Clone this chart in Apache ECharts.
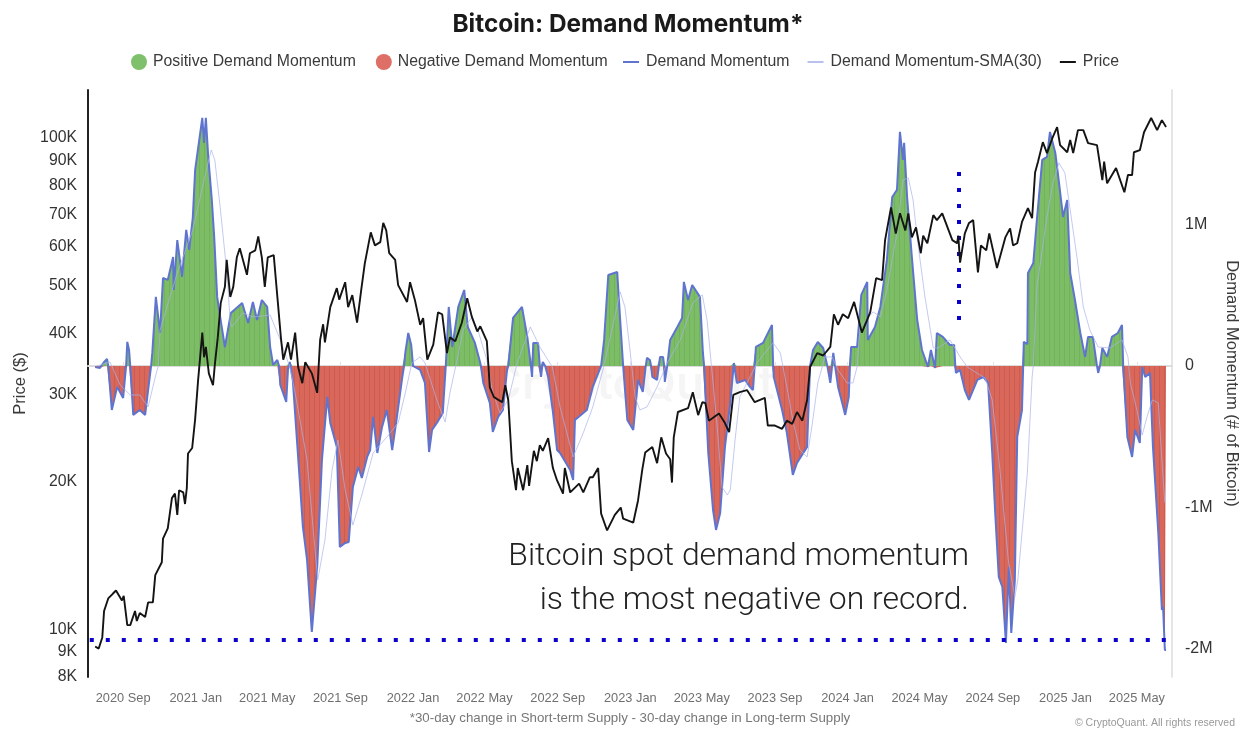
<!DOCTYPE html>
<html>
<head>
<meta charset="utf-8">
<style>html,body{margin:0;background:#fff}#chart{width:1256px;height:746px}</style>
<script src="https://cdn.jsdelivr.net/npm/echarts@6/dist/echarts.min.js"></script>
</head>
<body>
<div id="chart"></div>
<script>
// days are counted from the axis start, price in $K, momentum in thousand BTC
const axisStart = Date.UTC(2020, 6, 4)
const axisEnd = Date.UTC(2025, 5, 29)
const monthTicks = ['2020-09', '2021-01', '2021-05', '2021-09', '2022-01', '2022-05', '2022-09', '2023-01', '2023-05', '2023-09', '2024-01', '2024-05', '2024-09', '2025-01', '2025-05']
const priceTicks = [8, 9, 10, 20, 30, 40, 50, 60, 70, 80, 90, 100]
const momentumTicks = [-2000, -1000, 0, 1000]

const priceDays = [12,18,24,27,34,42,47,57,60,66,71,79,82,87,96,101,109,113,124,126,134,141,146,150,153,160,163,166,168,175,180,185,186,192,195,198,203,210,213,218,223,230,233,239,244,250,255,267,272,281,286,292,297,302,312,319,324,328,336,341,348,353,360,365,376,385,390,395,398,407,418,422,432,437,444,452,459,465,475,482,491,496,501,506,516,521,536,541,549,558,563,570,580,588,595,603,608,617,628,637,645,654,659,670,675,682,696,701,706,712,719,722,731,738,741,749,754,759,764,773,781,788,798,801,810,825,832,843,848,857,862,872,885,895,899,916,924,931,936,948,956,963,971,978,981,984,991,1008,1016,1025,1032,1037,1043,1060,1070,1077,1084,1095,1107,1120,1137,1142,1154,1166,1174,1183,1191,1200,1208,1213,1225,1235,1247,1253,1260,1268,1277,1287,1300,1314,1324,1334,1339,1349,1357,1364,1373,1378,1384,1391,1399,1403,1410,1420,1426,1435,1452,1460,1462,1465,1473,1480,1487,1495,1500,1509,1514,1527,1541,1549,1554,1561,1569,1579,1586,1591,1596,1604,1611,1620,1628,1633,1645,1650,1655,1663,1672,1680,1695,1704,1707,1712,1727,1741,1747,1754,1757,1767,1774,1786,1796,1804,1811]
const priceValues = [9.23,9.14,9.63,10.9,11.56,11.83,12,11.45,11.7,10.2,10.2,10.9,10.4,10.8,10.6,11.35,11.35,12.9,13.7,15.3,16.05,18.5,18.9,17.1,19.2,19,18,19.4,22.8,23.4,26.8,32.2,33.2,40.2,35.8,37.6,33.2,31.4,34.5,39.3,46.2,49.8,56.5,47.5,49.8,57.2,59.7,52.7,58.3,59.1,63.1,57.2,49.8,57.2,57.8,46.2,39.3,35.4,38.4,35.4,40.2,34.2,31.7,35,33.2,30.3,38.9,41.8,38.4,45.3,49.5,46.9,50.9,45.3,47.9,42.1,49.1,55.6,64.3,60.5,61.4,67.2,64.9,58.3,56.5,50.2,46.4,50.9,46.9,41.7,43,35.4,38,44.2,43.8,36.5,39.3,38.6,42.1,47.2,43.2,40.4,41.4,38.6,31.1,29.7,29,31.4,29.3,22,19.2,21.3,19.2,21.6,19.6,23.1,22,23.7,23.1,24.5,21.3,20.1,18.9,21.3,19,19.8,19,20.4,20.4,21.3,17.2,15.9,17.1,17.7,16.8,16.5,18.3,21.1,22.9,23.5,21.8,24.6,22.8,22.2,19.9,24.6,27.7,28.2,30.4,27.3,29,28.9,26.6,27.5,26.3,25.2,30,30.4,30.7,29,29.6,26,26,25.6,26.6,26.2,27.7,26.6,29.3,34.2,36.5,36.1,37.6,43.8,41.7,43.8,43,46.4,40.2,44.2,51.9,51.4,62,72.3,63.9,70.3,64.9,70.3,62.8,65.8,58.3,63.3,61.1,69.7,68.1,70.3,62,61.1,63.3,55.8,64,67.2,68.1,53.3,60.5,59.1,64,54.4,62.8,65.5,60.5,61.1,67.5,72,68.7,85.1,89.6,98.1,93.2,100,105.3,96.8,93.6,99.1,93.2,103.8,103.8,97.7,96.8,82.1,89.6,80.9,86.9,77.6,84.1,84.1,93.6,94.5,102.8,109.9,103.8,108.8,105.3]

const momentumDays = [12,20,27,32,34,40,49,59,64,66,69,71,76,87,96,101,106,108,114,121,126,134,143,144,150,158,165,170,176,180,192,195,198,202,208,212,217,222,230,240,259,269,277,284,292,301,306,311,318,321,323,333,336,339,344,356,361,368,376,385,393,402,407,418,423,432,438,445,454,460,469,474,479,486,494,502,511,519,528,531,533,538,543,546,558,566,573,578,586,596,601,606,612,622,632,638,650,659,660,664,675,680,689,697,704,706,714,729,738,744,746,748,756,759,761,764,768,773,781,788,793,810,815,818,838,848,862,867,874,889,894,899,906,916,924,932,937,939,944,946,948,956,959,961,966,968,969,973,978,990,998,1001,1008,1015,1028,1033,1035,1042,1050,1055,1062,1070,1079,1085,1090,1104,1112,1117,1120,1122,1134,1149,1151,1152,1166,1174,1184,1191,1208,1213,1218,1226,1235,1242,1247,1250,1252,1255,1260,1267,1272,1278,1280,1282,1292,1299,1309,1310,1322,1331,1342,1351,1359,1364,1369,1371,1376,1384,1393,1401,1411,1416,1423,1426,1436,1448,1455,1457,1458,1465,1473,1480,1494,1504,1512,1519,1524,1530,1536,1542,1547,1551,1557,1561,1569,1571,1572,1578,1579,1588,1594,1603,1611,1616,1625,1630,1638,1645,1650,1658,1667,1675,1680,1688,1695,1697,1700,1704,1712,1720,1730,1737,1739,1746,1754,1759,1767,1771,1776,1784,1789,1798,1804,1806,1809,1811]
const momentumValues = [-7,-14,28,49,0,-311,-148,-226,0,170,113,0,-346,-311,-346,-170,0,92,488,233,622,608,770,537,890,629,961,820,1046,1385,1753,1576,1753,1477,1173,912,488,346,134,375,445,304,452,325,466,417,134,7,42,0,-134,-254,-21,28,-99,-827,-1138,-1371,-1880,-1420,-664,-219,-403,-572,-1279,-1251,-1244,-855,-714,-792,-643,-594,-360,-615,-431,-311,-594,-360,-78,0,92,233,148,0,-28,-120,-608,-452,-403,-332,0,417,134,417,537,276,163,21,0,-120,-261,-466,-360,-311,-28,0,339,417,205,0,-78,163,163,0,-78,28,0,-78,-325,-594,-615,-735,-806,-382,-311,-148,0,184,643,664,325,0,-382,-452,-99,-184,0,57,42,0,-78,-99,0,64,64,0,-113,0,184,276,339,594,466,572,488,92,0,-615,-1018,-1159,-1039,-572,-261,21,-120,-99,-148,-170,0,134,163,290,0,-78,-311,-473,-770,-685,-572,0,113,170,127,0,-120,0,92,0,-148,-261,-346,-219,0,134,134,502,594,184,276,417,749,1194,1244,1654,1456,1576,1194,770,325,113,-7,113,-14,233,205,148,148,0,-49,-28,-170,-240,-99,-78,-120,-615,-1039,-1491,-1562,-1958,-1420,-1887,-1512,-502,-311,0,170,155,657,728,1032,1456,1477,1654,1505,1336,1053,1173,657,466,233,64,205,205,0,-49,0,127,64,205,233,290,0,-502,-643,-452,-544,-7,-78,-49,-572,-1180,-1724,-1703,-2007,-2007]

const smaDays = [15,37,54,71,87,101,113,118,121,150,176,200,207,213,222,234,239,242,260,277,306,323,339,348,368,378,386,398,410,420,432,445,460,479,502,521,533,544,558,566,586,600,608,620,630,645,655,670,679,692,706,721,743,759,780,793,815,832,848,865,880,894,902,911,919,927,939,956,973,995,1016,1032,1040,1048,1057,1065,1074,1079,1087,1095,1107,1124,1137,1151,1163,1174,1184,1196,1208,1216,1226,1238,1250,1260,1275,1285,1292,1297,1319,1331,1342,1359,1369,1378,1386,1394,1406,1420,1428,1448,1465,1477,1490,1507,1519,1532,1546,1557,1562,1578,1586,1588,1594,1611,1621,1631,1641,1650,1662,1672,1683,1697,1717,1737,1747,1751,1762,1771,1779,1788,1798,1804,1809]
const smaValues = [0,28,-134,-205,-205,-290,-78,0,254,657,961,1406,1526,1456,1124,629,304,276,375,346,360,184,-7,-191,-664,-1138,-1512,-1230,-735,-523,-876,-1124,-912,-615,-502,-403,-191,21,64,21,-240,-396,-191,42,254,346,254,42,-170,-332,-240,21,276,134,-7,-290,-643,-473,-290,-28,254,523,417,92,-219,-311,-290,-148,21,184,445,502,325,-28,-431,-855,-912,-876,-523,-219,-120,21,92,163,92,-148,-382,-594,-643,-431,-120,64,64,-28,-120,-120,-7,276,382,346,537,940,1314,1329,1173,869,488,127,127,184,64,-7,-42,-85,-240,-735,-1371,-1632,-1512,-756,-78,0,558,1053,1293,1435,1364,1102,749,417,254,134,127,184,64,-120,-311,-488,-360,-240,-261,-664,-968]

// annotation guides drawn over the chart
const recordLevel = -1936
const recordDays = [3, 1811]
const markerDay = 1463
const markerRange = [240, 1371]

const dayToTime = d => axisStart + d * 86400000
const zip = (days, values) => days.map((d, i) => [dayToTime(d), values[i]])
const monthNames = ['Jan', 'Feb', 'Mar', 'Apr', 'May', 'Jun', 'Jul', 'Aug', 'Sep', 'Oct', 'Nov', 'Dec']
const monthTickTimes = monthTicks.map(m => Date.UTC(+m.slice(0, 4), +m.slice(5) - 1, 1))

// the source is daily bars, a small stripe pattern gives the same texture
function stripes(base, dark) {
  const c = document.createElement('canvas')
  c.width = 5
  c.height = 4
  const ctx = c.getContext('2d')
  ctx.fillStyle = base
  ctx.fillRect(0, 0, 5, 4)
  ctx.fillStyle = dark
  ctx.fillRect(4, 0, 1, 4)
  return { image: c, repeat: 'repeat' }
}

const font = 'Liberation Sans'
const myChart = echarts.init(document.getElementById('chart'), null, { renderer: 'canvas' })
myChart.setOption({
  animation: false,
  backgroundColor: '#fff',
  textStyle: { fontFamily: font },
  title: {
    text: 'Bitcoin: Demand Momentum*',
    left: 623,
    top: 8,
    textAlign: 'center',
    textStyle: { fontFamily: 'Inter', fontSize: 24.4, fontWeight: 700, color: '#1a1a1a' }
  },
  legend: [
    {
      left: 126,
      top: 49,
      itemWidth: 16,
      itemHeight: 17,
      itemGap: 20,
      textStyle: { fontSize: 15.8, color: '#3a3a3a', padding: [0, 0, 0, 1] },
      data: [
        { name: 'Positive Demand Momentum', icon: 'circle', itemStyle: { color: '#7fc06c' } },
        { name: 'Negative Demand Momentum', icon: 'circle', itemStyle: { color: '#de6f66' } }
      ]
    },
    {
      left: 618,
      top: 49,
      itemWidth: 16,
      itemHeight: 2,
      itemGap: 18,
      textStyle: { fontSize: 15.85, color: '#3a3a3a', padding: [0, 0, 0, 2] },
      data: [
        { name: 'Demand Momentum', icon: 'rect' },
        { name: 'Demand Momentum-SMA(30)', icon: 'rect' },
        { name: 'Price', icon: 'rect' }
      ]
    }
  ],
  grid: { left: 88, right: 84, top: 90, bottom: 69, containLabel: false },
  xAxis: {
    type: 'value',
    min: axisStart,
    max: axisEnd,
    axisLine: { lineStyle: { color: '#dcdcdc', width: 2 } },
    axisTick: { inside: true, length: 4, lineStyle: { color: '#e2e2e2' }, customValues: monthTickTimes },
    splitLine: { show: false },
    axisLabel: {
      customValues: monthTickTimes,
      margin: 15,
      fontSize: 12.8,
      color: '#6f6f6f',
      hideOverlap: false,
      formatter: v => new Date(v).getUTCFullYear() + ' ' + monthNames[new Date(v).getUTCMonth()]
    }
  },
  yAxis: [
    {
      type: 'log',
      logBase: 10,
      min: 8,
      max: 125.3,
      name: 'Price ($)',
      nameLocation: 'middle',
      nameGap: 50,
      nameTextStyle: { fontSize: 16.5, color: '#3a3a3a' },
      axisLine: { show: true, lineStyle: { color: '#222', width: 2 } },
      axisTick: { show: false },
      splitLine: { show: false },
      minorSplitLine: { show: false },
      axisLabel: {
        customValues: priceTicks,
        margin: 11,
        fontSize: 15.8,
        color: '#333',
        formatter: v => Math.round(v) + 'K'
      }
    },
    {
      type: 'value',
      min: -2198,
      max: 1950,
      position: 'right',
      name: 'Demand Momentum (# of Bitcoin)',
      nameLocation: 'middle',
      nameRotate: -90,
      nameGap: 46,
      nameTextStyle: { fontSize: 16.5, color: '#3a3a3a' },
      axisLine: { show: true, lineStyle: { color: '#dcdcdc', width: 1.5 } },
      axisTick: { show: false },
      splitLine: { show: false },
      axisLabel: {
        customValues: momentumTicks,
        margin: 13,
        fontSize: 16,
        color: '#333',
        formatter: v => (v === 0 ? '0' : v / 1000 + 'M')
      }
    }
  ],
  series: [
    {
      name: 'Positive Demand Momentum',
      type: 'line',
      yAxisIndex: 1,
      symbol: 'none',
      lineStyle: { width: 0 },
      areaStyle: { color: stripes('#7dbd66', '#72b25c'), opacity: 1 },
      data: zip(momentumDays, momentumValues.map(v => Math.max(v, 0))),
      z: 2
    },
    {
      name: 'Negative Demand Momentum',
      type: 'line',
      yAxisIndex: 1,
      symbol: 'none',
      lineStyle: { width: 0 },
      areaStyle: { color: stripes('#d9675a', '#cc5c52'), opacity: 1 },
      data: zip(momentumDays, momentumValues.map(v => Math.min(v, 0))),
      z: 2
    },
    {
      name: 'Demand Momentum',
      type: 'line',
      yAxisIndex: 1,
      symbol: 'none',
      lineStyle: { width: 2, color: '#5f74cf' },
      itemStyle: { color: '#5f74cf' },
      data: zip(momentumDays, momentumValues),
      z: 3,
      markLine: {
        silent: true,
        symbol: 'none',
        label: { show: false },
        lineStyle: { color: '#0a00cc', width: 4, type: [4, 12], opacity: 1 },
        data: [
          [{ coord: [dayToTime(recordDays[0]), recordLevel] }, { coord: [dayToTime(recordDays[1]), recordLevel] }],
          [{ coord: [dayToTime(markerDay), markerRange[1]] }, { coord: [dayToTime(markerDay), markerRange[0]] }]
        ]
      }
    },
    {
      name: 'Demand Momentum-SMA(30)',
      type: 'line',
      yAxisIndex: 1,
      symbol: 'none',
      lineStyle: { width: 0.7, color: '#aab3ea' },
      itemStyle: { color: '#b9c0ee' },
      data: zip(smaDays, smaValues),
      z: 4
    },
    {
      name: 'Price',
      type: 'line',
      yAxisIndex: 0,
      symbol: 'none',
      lineStyle: { width: 1.9, color: '#141414' },
      itemStyle: { color: '#141414' },
      data: zip(priceDays, priceValues),
      z: 5
    }
  ],
  graphic: [
    {
      type: 'text',
      left: 488,
      top: 362,
      z: 1,
      style: { text: 'CryptoQuant', font: '600 46px Inter', fill: 'rgba(0,0,0,0.04)' }
    },
    {
      type: 'text',
      x: 969,
      y: 535,
      z: 10,
      style: {
        text: 'Bitcoin spot demand momentum\nis the most negative on record.',
        font: '300 31.9px Roboto',
        lineHeight: 44,
        align: 'right',
        fill: '#222'
      }
    },
    {
      type: 'text',
      x: 630,
      y: 712,
      style: {
        text: '*30-day change in Short-term Supply - 30-day change in Long-term Supply',
        font: '13.3px "Liberation Sans"',
        align: 'center',
        fill: '#777'
      }
    },
    {
      type: 'text',
      x: 1235,
      y: 718,
      style: {
        text: '© CryptoQuant. All rights reserved',
        font: '10.5px "Liberation Sans"',
        align: 'right',
        fill: '#999'
      }
    }
  ]
})
</script>
</body>
</html>
